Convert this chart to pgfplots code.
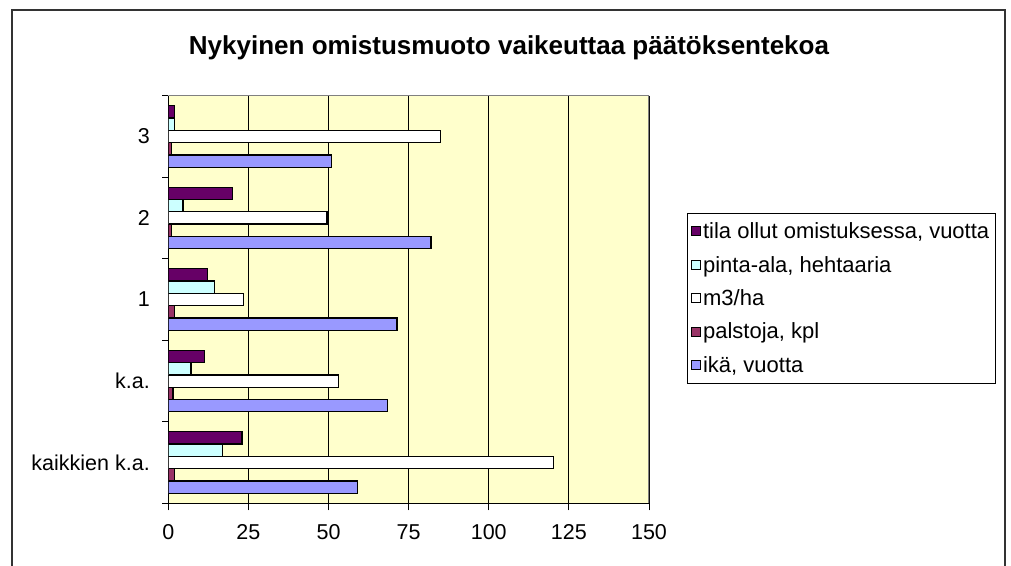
\documentclass[border=0pt]{standalone}
\usepackage{pgfplots}
\pgfplotsset{compat=1.18}
\usepackage{fontspec}
\setmainfont{Liberation Sans}
\definecolor{cika}{HTML}{9999FF}
\definecolor{cpal}{HTML}{993366}
\definecolor{cm3}{HTML}{FFFFFF}
\definecolor{cpin}{HTML}{CCFFFF}
\definecolor{ctila}{HTML}{660066}
\definecolor{bgy}{HTML}{FFFFCC}
\begin{document}
\begin{tikzpicture}[x=1pt,y=1pt]
\path[use as bounding box] (0,0) rectangle (1011,565);
\draw[line width=2pt, black!80] (11.5,-5) -- (11.5,555) -- (1005,555) -- (1005,-5);
\node[anchor=base, font=\bfseries\fontsize{26}{30}\selectfont] at (509,510.5) {Nykyinen omistusmuoto vaikeuttaa päätöksentekoa};
\begin{axis}[
  at={(168.3pt,61.7pt)}, anchor=south west,
  scale only axis, width=480.7pt, height=407.6pt,
  xmin=0, xmax=150, ymin=-0.5, ymax=4.5,
  axis x line*=bottom, axis y line*=left,
  axis line style={black, line width=1pt},
  axis background/.style={fill=bgy},
  xtick={0,25,...,150},
  xmajorgrids, grid style={black, line width=1pt},
  ytick={0,1,2,3,4},
  yticklabels={kaikkien k.a., k.a., 1, 2, 3},
  minor ytick={-0.5,0.5,...,4.5},
  tick align=outside,
  major x tick style={black, line width=1pt},
  major y tick style={draw=none},
  minor y tick style={black, line width=1pt},
  major tick length=7pt, minor tick length=6pt,
  /pgf/number format/assume math mode=true,
  tick label style={font=\fontsize{21.5}{25}\selectfont},
  xticklabel style={yshift=-11pt},
  yticklabel style={xshift=-8pt},
  xbar, bar width=12.3pt,
  every axis plot/.append style={draw=black, line width=1.3pt},
  legend image code/.code={\draw[#1,/tikz/.cd,line width=1pt] (0pt,-4.5pt) rectangle (9pt,4.5pt);},
  reverse legend,
  legend cell align=left,
  legend style={at={(1.0784,0.7115)}, anchor=north west, draw=black, line width=0.8pt,
    font=\fontsize{22}{26}\selectfont, row sep=12pt, inner xsep=4pt, inner ysep=7pt,
    /tikz/every even column/.append style={column sep=2pt}},
]
\addplot[fill=cika, bar shift=-24.6pt] coordinates {(59,0) (68.3,1) (71.4,2) (82,3) (51,4)};
\addplot[fill=cpal, bar shift=-12.3pt] coordinates {(2,0) (1.5,1) (2,2) (1,3) (1,4)};
\addplot[fill=cm3, bar shift=0pt] coordinates {(120.2,0) (53,1) (23.4,2) (49.5,3) (85,4)};
\addplot[fill=cpin, bar shift=12.3pt] coordinates {(16.9,0) (7.1,1) (14.4,2) (4.6,3) (2,4)};
\addplot[fill=ctila, bar shift=24.6pt] coordinates {(23,0) (11.4,1) (12.2,2) (20,3) (2,4)};
\legend{{ikä, vuotta}, {palstoja, kpl}, {m3/ha}, {pinta-ala, hehtaaria}, {tila ollut omistuksessa, vuotta}}
\draw[gray, line width=1.5pt] (rel axis cs:0,1) -- (rel axis cs:1,1) -- (rel axis cs:1,0);
\end{axis}
\end{tikzpicture}
\end{document}
